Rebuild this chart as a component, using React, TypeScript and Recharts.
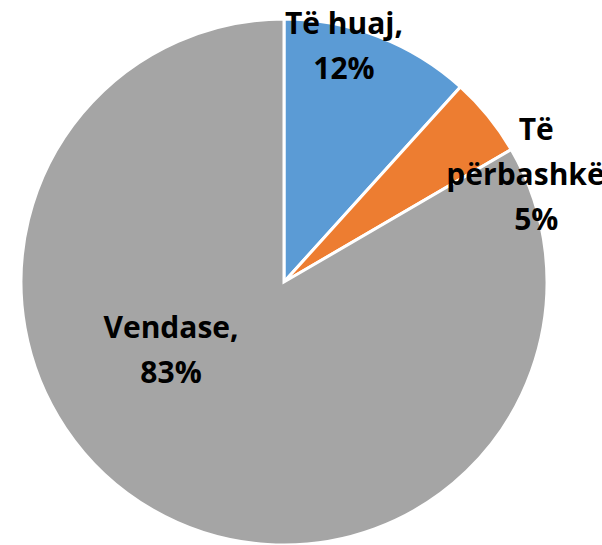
import { PieChart, Pie, Cell } from "recharts";

const categories = ["Të huaj", "Të përbashkët", "Vendase"];
const shares = [11.7, 4.9, 83.4];
const colors = ["#5B9BD5", "#ED7D31", "#A5A5A5"];

// label lines and placement (polar angle in degrees, radius as fraction of pie radius)
const labelLines = [
    ["Të huaj,", "12%"],
    ["Të", "përbashkët,", "5%"],
    ["Vendase,", "83%"],
];
const labelPolar = [
    { angle: 76.4, r: 0.97 },
    { angle: 29.3, r: 1.1 },
    { angle: 206.5, r: 0.48 },
];

const data = categories.map((name, i) => ({ name, value: shares[i] }));

const RADIAN = Math.PI / 180;

const renderLabel = ({ cx, cy, outerRadius, index }: any) => {
    const p = labelPolar[index];
    const x = cx + Math.cos(p.angle * RADIAN) * outerRadius * p.r;
    const y = cy - Math.sin(p.angle * RADIAN) * outerRadius * p.r;
    return (
        <text
            x={x}
            y={y}
            textAnchor="middle"
            fill="#000"
            fontFamily="Open Sans, sans-serif"
            fontWeight={700}
            fontSize={30}
        >
            {labelLines[index].map((line, i) => (
                <tspan key={i} x={x} dy={i === 0 ? 0 : 45}>
                    {line}
                </tspan>
            ))}
        </text>
    );
};

export default function App() {
    return (
        <div style={{ position: "absolute", left: 0, top: 0, width: 602, height: 545, background: "#fff", overflow: "hidden" }}>
            <PieChart width={602} height={545} margin={{ top: 0, right: 0, bottom: 0, left: 0 }}>
                <Pie
                    data={data}
                    dataKey="value"
                    nameKey="name"
                    cx={284}
                    cy={282}
                    outerRadius={263}
                    startAngle={90}
                    endAngle={-270}
                    stroke="#fff"
                    strokeWidth={3}
                    label={renderLabel}
                    labelLine={false}
                    isAnimationActive={false}
                >
                    {data.map((entry, index) => (
                        <Cell key={`cell-${index}`} fill={colors[index]} />
                    ))}
                </Pie>
            </PieChart>
        </div>
    );
}
